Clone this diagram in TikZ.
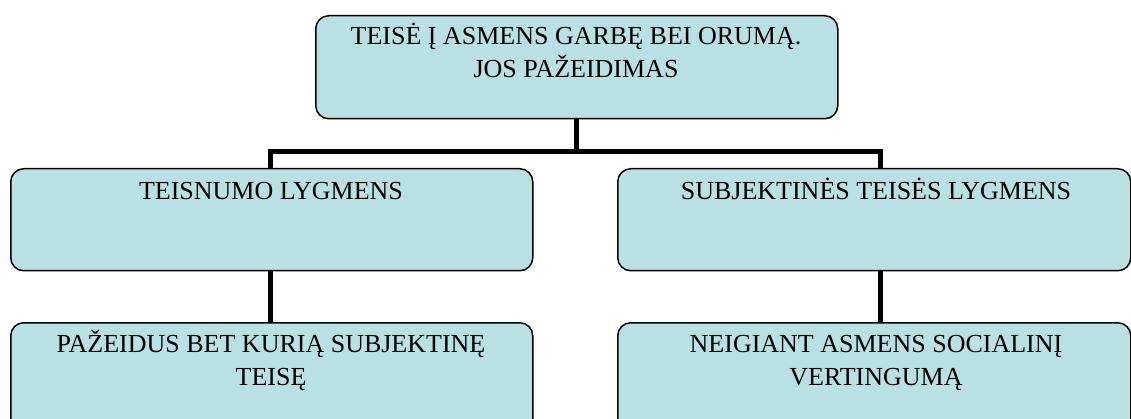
\documentclass[tikz,border=0pt]{standalone}
\usepackage{fontspec}
\setmainfont{Liberation Serif}
\definecolor{boxfill}{RGB}{185,224,227}
\begin{document}
\begin{tikzpicture}[x=1pt,y=-1pt,
  box/.style={draw=black, line width=1.5pt, fill=boxfill, rounded corners=13pt, anchor=north west, inner sep=0pt},
  lbl/.style={anchor=base, font=\fontsize{26}{33}\selectfont, align=center, inner sep=0pt},
  conn/.style={line width=5pt, line join=miter}]
\useasboundingbox (0,0) rectangle (1131,419);
\clip (0,0) rectangle (1131,419);
% boxes
\node[box, minimum width=522pt, minimum height=103pt] (top) at (315,15) {};
\node[box, minimum width=522pt, minimum height=102pt] (ml) at (10,168) {};
\node[box, minimum width=513pt, minimum height=102pt] (mr) at (617,168) {};
\node[box, minimum width=522pt, minimum height=110pt] (bl) at (10,322) {};
\node[box, minimum width=513pt, minimum height=110pt] (br) at (617,322) {};
% junctions
\coordinate (jT) at (576,152);
\coordinate (jL) at (270,152);
\coordinate (jR) at (880,152);
% connectors
\draw[conn] (top.south -| jT) -- (jT);
\draw[conn] (jL |- ml.north) -- (jL) -- (jR) -- (jR |- mr.north);
\draw[conn] (jL |- ml.south) -- (jL |- bl.north);
\draw[conn] (jR |- mr.south) -- (jR |- br.north);
% texts (base anchor = baseline of last line)
\node[lbl] (ttop) at (576,78) {TEISĖ Į ASMENS GARBĘ BEI ORUMĄ.\\JOS PAŽEIDIMAS};
\node[lbl] (tml) at (271,200) {TEISNUMO LYGMENS};
\node[lbl] (tmr) at (876,200) {SUBJEKTINĖS TEISĖS LYGMENS};
\node[lbl] (tbl) at (271,385) {PAŽEIDUS BET KURIĄ SUBJEKTINĘ\\TEISĘ};
\node[lbl] (tbr) at (876,385) {NEIGIANT ASMENS SOCIALINĮ\\VERTINGUMĄ};
\end{tikzpicture}
\end{document}
